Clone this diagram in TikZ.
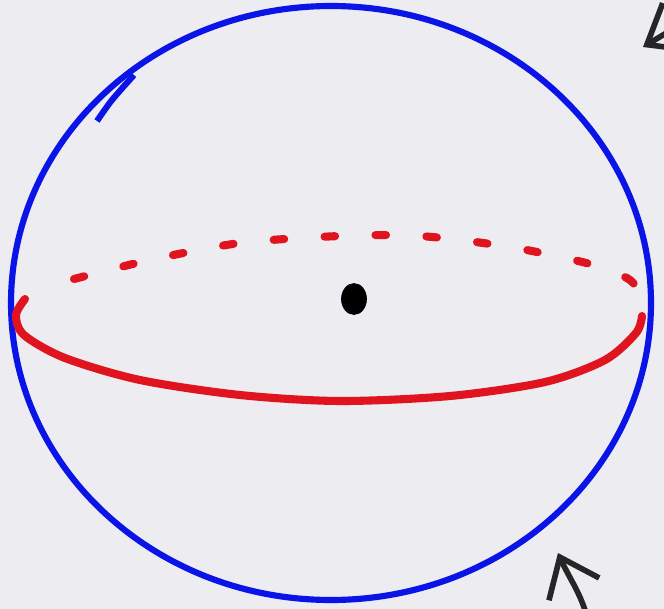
\documentclass[tikz,border=0pt]{standalone}
\usepackage{tikz}
\usetikzlibrary{arrows.meta,shapes.geometric}

\definecolor{paper}{HTML}{ECECF1}
\definecolor{penblue}{HTML}{0A14E6}
\definecolor{penred}{HTML}{E0141E}

\tikzset{
  shell/.style={draw=penblue, line width=3.5pt},
  equator/.style={draw=penred, line width=4.6pt, line cap=round, line join=round},
  pointer/.style={draw=black!85, line width=3.2pt, line cap=round,
    -{Straight Barb[length=7mm, width=11mm, line width=3.2pt]}},
}

\begin{document}
\begin{tikzpicture}[x=0.02cm, y=-0.02cm]
% page
\fill[paper] (0,0) rectangle (664,609);
\useasboundingbox (0,0) rectangle (664,609);
\clip (0,0) rectangle (664,609);

% sphere outline
\draw[shell] (331,303) ellipse [x radius=320, y radius=297];
\draw[shell] plot[smooth] coordinates {(97,121) (112,100) (134,75)};

% equator, front part
\draw[equator] plot[smooth] coordinates {(25,299) (16,315) (24,335) (65,358) (140,380) (240,395) (340,401) (450,396) (545,382) (605,360) (636,333) (642,316)};
% equator, hidden part
\draw[equator, dash pattern=on 6pt off 23pt] plot[smooth] coordinates {(74,279) (150,260) (240,243) (340,236) (420,236) (510,247) (590,264) (630,280) (644,302)};

% centre
\node[draw=black, fill=black, ellipse, minimum width=0.5cm, minimum height=0.62cm, inner sep=0pt] (centre) at (354,299) {};

% pointers
\coordinate (tailA) at (713,5);
\coordinate (tipA) at (643,47);
\draw[pointer] (tailA) -- (tipA);
\coordinate (tailB) at (588,620);
\coordinate (tipB) at (558,553);
\draw[pointer] (tailB) to[out=105, in=-66] (tipB);
\end{tikzpicture}
\end{document}
